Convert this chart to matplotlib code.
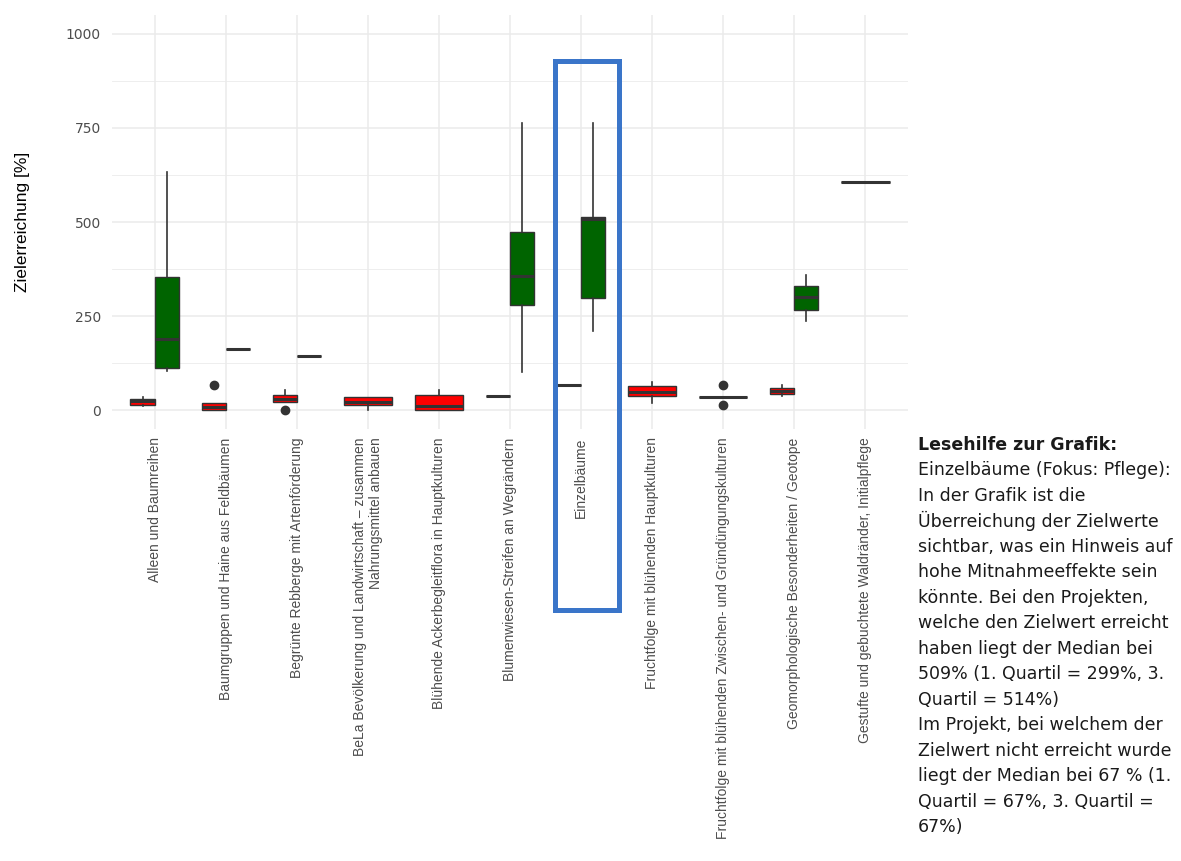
import numpy as np
import matplotlib
matplotlib.use("Agg")
import matplotlib.pyplot as plt
from matplotlib.patches import Rectangle

categories = [
    "Alleen und Baumreihen",
    "Baumgruppen und Haine aus Feldbäumen",
    "Begrünte Rebberge mit Artenförderung",
    "BeLa Bevölkerung und Landwirtschaft – zusammen\nNahrungsmittel anbauen",
    "Blühende Ackerbegleitflora in Hauptkulturen",
    "Blumenwiesen-Streifen an Wegrändern",
    "Einzelbäume",
    "Fruchtfolge mit blühenden Hauptkulturen",
    "Fruchtfolge mit blühenden Zwischen- und Gründüngungskulturen",
    "Geomorphologische Besonderheiten / Geotope",
    "Gestufte und gebuchtete Waldränder, Initialpflege",
]
nan = np.nan
# Zielwert nicht erreicht (rot)
nr_q1 = [15, 0, 21, 13, 1, 38, 67, 37, 35, 43, nan]
nr_med = [24, 9, 30, 22, 11, 38, 67, 49, 35, 51, nan]
nr_q3 = [31, 20, 41, 36, 40, 38, 67, 64, 35, 60, nan]
nr_lo = [11, 0, 21, 0, 1, 38, 67, 18, 35, 37, nan]
nr_hi = [36, 20, 53, 36, 53, 38, 67, 74, 35, 67, nan]
nr_fliers = [[], [67], [0], [], [], [], [], [], [68, 15], [], []]
# Zielwert erreicht (grün)
r_q1 = [113, 162, 144, nan, nan, 280, 299, nan, nan, 267, 606]
r_med = [188, 162, 144, nan, nan, 357, 509, nan, nan, 300, 606]
r_q3 = [354, 162, 144, nan, nan, 474, 514, nan, nan, 331, 606]
r_lo = [104, 162, 144, nan, nan, 102, 211, nan, nan, 237, 606]
r_hi = [632, 162, 144, nan, nan, 763, 764, nan, nan, 359, 606]
r_fliers = [[] for _ in categories]

y_ticks = [0, 250, 500, 750, 1000]
y_label = "Zielerreichung [%]"

note_lines = [
    "Lesehilfe zur Grafik:",
    "Einzelbäume (Fokus: Pflege):",
    "In der Grafik ist die",
    "Überreichung der Zielwerte",
    "sichtbar, was ein Hinweis auf",
    "hohe Mitnahmeeffekte sein",
    "könnte. Bei den Projekten,",
    "welche den Zielwert erreicht",
    "haben liegt der Median bei",
    "509% (1. Quartil = 299%, 3.",
    "Quartil = 514%)",
    "Im Projekt, bei welchem der",
    "Zielwert nicht erreicht wurde",
    "liegt der Median bei 67 % (1.",
    "Quartil = 67%, 3. Quartil =",
    "67%)",
]

RED = "#FF0000"
GREEN = "#006400"
EDGE = "#333333"
GRID = "#EBEBEB"

W, H = 1181, 861
fig = plt.figure(figsize=(W / 100, H / 100), dpi=100)
ax = fig.add_axes([112 / W, 1 - 429 / H, (908 - 112) / W, (429 - 15) / H])

total_w = 0.68
groups = [
    (nr_q1, nr_med, nr_q3, nr_lo, nr_hi, nr_fliers, RED),
    (r_q1, r_med, r_q3, r_lo, r_hi, r_fliers, GREEN),
]
for gi, (q1, med, q3, lo, hi, fl, col) in enumerate(groups):
    stats, pos, wid = [], [], []
    for i in range(len(categories)):
        if np.isnan(q1[i]):
            continue
        other = groups[1 - gi][0][i]
        x = i + 1
        if np.isnan(other):
            p, w = x, total_w
        else:
            p = x - total_w / 4 if gi == 0 else x + total_w / 4
            w = total_w / 2
        stats.append(dict(q1=q1[i], med=med[i], q3=q3[i], whislo=lo[i],
                          whishi=hi[i], fliers=fl[i]))
        pos.append(p)
        wid.append(w)
    ax.bxp(stats, positions=pos, widths=wid, patch_artist=True,
           showcaps=False, manage_ticks=False,
           boxprops=dict(facecolor=col, edgecolor=EDGE, linewidth=1.0),
           whiskerprops=dict(color=EDGE, linewidth=1.2),
           medianprops=dict(color=EDGE, linewidth=2.2, solid_capstyle="butt"),
           flierprops=dict(marker="o", markerfacecolor=EDGE,
                           markeredgecolor=EDGE, markersize=6))

ax.set_xlim(0.4, len(categories) + 0.6)
ax.set_ylim(-50, 1050)
ax.set_xticks(range(1, len(categories) + 1))
ax.set_xticklabels(categories, rotation=90, ha="center", va="top",
                   multialignment="right", fontsize=10,
                   family="Liberation Sans", color="#4D4D4D")
ax.set_yticks(y_ticks)
ax.set_yticklabels([str(v) for v in y_ticks], fontsize=10,
                   family="DejaVu Sans", color="#4D4D4D")
ax.set_yticks([125, 375, 625, 875], minor=True)
ax.tick_params(axis="both", which="both", length=0)
ax.tick_params(axis="y", pad=8)
ax.tick_params(axis="x", pad=6)
ax.grid(True, which="major", color=GRID, linewidth=1.1)
ax.grid(True, which="minor", axis="y", color=GRID, linewidth=0.6)
ax.set_axisbelow(True)
for s in ax.spines.values():
    s.set_visible(False)
ax.set_ylabel(y_label, fontsize=12.5, family="Liberation Sans",
              color="black", labelpad=26)

# highlight frame around "Einzelbäume"
fig.patches.append(Rectangle((554.5 / W, 1 - 609.5 / H), 64 / W, 549 / H,
                             transform=fig.transFigure, fill=False,
                             edgecolor="#3A75C9", linewidth=3.6, zorder=10))

# reading help
y0, dy = 445, 25.47
for k, line in enumerate(note_lines):
    fig.text(918 / W, 1 - (y0 + k * dy) / H, line, fontsize=12.5,
             family="DejaVu Sans", color="#1A1A1A", va="center", ha="left",
             fontweight="bold" if k == 0 else "normal")

fig.savefig("out.png", dpi=100)
